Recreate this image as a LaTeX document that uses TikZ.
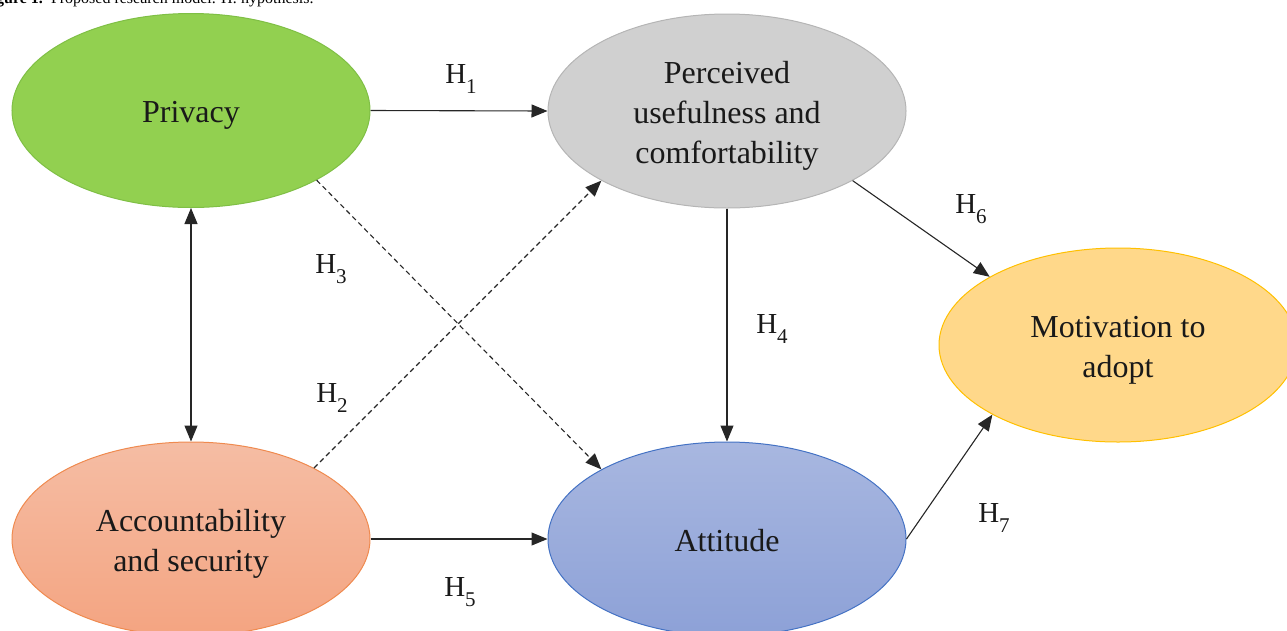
\documentclass[tikz,border=0pt]{standalone}
\usepackage{fontspec}
\setmainfont{Liberation Serif}
\usetikzlibrary{shapes.geometric,arrows.meta}
\definecolor{privfill}{HTML}{92D050}
\definecolor{privedge}{HTML}{7FBF45}
\definecolor{percfill}{HTML}{D0D0D0}
\definecolor{percedge}{HTML}{B5B5B5}
\definecolor{motfill}{HTML}{FFD88A}
\definecolor{motedge}{HTML}{FFC000}
\definecolor{acctop}{HTML}{F5BDA4}
\definecolor{accbot}{HTML}{F4A481}
\definecolor{accedge}{HTML}{EF8A4F}
\definecolor{atttop}{HTML}{A8B7E0}
\definecolor{attbot}{HTML}{8DA1D7}
\definecolor{attedge}{HTML}{4472C4}
\newcommand\hyplab[1]{H\raisebox{-0.32em}{\fontsize{21}{21}\selectfont #1}}
\newcommand\ls{\rule[-8pt]{0pt}{40pt}}
\tikzset{
  x=1pt, y=-1pt,
  construct/.style={ellipse, minimum width=358pt, minimum height=194pt, inner sep=0pt,
    align=center, font=\fontsize{32}{40}\selectfont, text=black!90, line width=1pt},
  hlabel/.style={font=\fontsize{29}{29}\selectfont, text=black!90, inner sep=0pt},
  link/.style={line width=1.1pt, draw=black!85, -{Triangle[length=16pt,width=13pt]}},
  dlink/.style={link, dash pattern=on 5pt off 3.5pt},
  biLink/.style={line width=1.1pt, draw=black!85, {Triangle[length=16pt,width=13pt]}-{Triangle[length=16pt,width=13pt]}},
}
\begin{document}
\begin{tikzpicture}
\useasboundingbox (0,0) rectangle (1287,630);
\clip (0,0) rectangle (1287,630);
\node[anchor=base west, inner sep=0pt, font=\fontsize{16}{16}\selectfont] (cap) at (-4,3)
  {\textbf{gure 1.}\ \ Proposed research model. H: hypothesis.};
\node[construct, fill=privfill, draw=privedge] (priv) at (191,110.5) {\ls Privacy};
\node[construct, fill=percfill, draw=percedge] (perc) at (727,111) {\ls Perceived\\\ls usefulness and\\\ls comfortability};
\node[construct, fill=motfill, draw=motedge] (mot) at (1118,345) {\ls Motivation to\\\ls adopt};
\node[construct, top color=acctop, bottom color=accbot, draw=accedge] (acc) at (191,539) {\ls Accountability\\\ls and security};
\node[construct, top color=atttop, bottom color=attbot, draw=attedge] (att) at (727,539) {\ls Attitude};
\draw[link] (priv.east) -- (perc.west);
\draw[biLink] (priv.south) -- (acc.north);
\draw[dlink] (priv.-29) -- (att.151);
\draw[dlink] (acc.30) -- (perc.-151);
\draw[link] (perc.south) -- (att.north);
\draw[link] (perc.-29) -- (mot.152);
\draw[link] (att.east) -- (mot.-151);
\draw[link] (acc.east) -- (att.west);
\node[hlabel] (h1) at (461,79) {\hyplab{1}};
\node[hlabel] (h2) at (332,398) {\hyplab{2}};
\node[hlabel] (h3) at (331,269) {\hyplab{3}};
\node[hlabel] (h4) at (772,329) {\hyplab{4}};
\node[hlabel] (h5) at (460,592) {\hyplab{5}};
\node[hlabel] (h6) at (971,209) {\hyplab{6}};
\node[hlabel] (h7) at (994,518) {\hyplab{7}};
\end{tikzpicture}
\end{document}
